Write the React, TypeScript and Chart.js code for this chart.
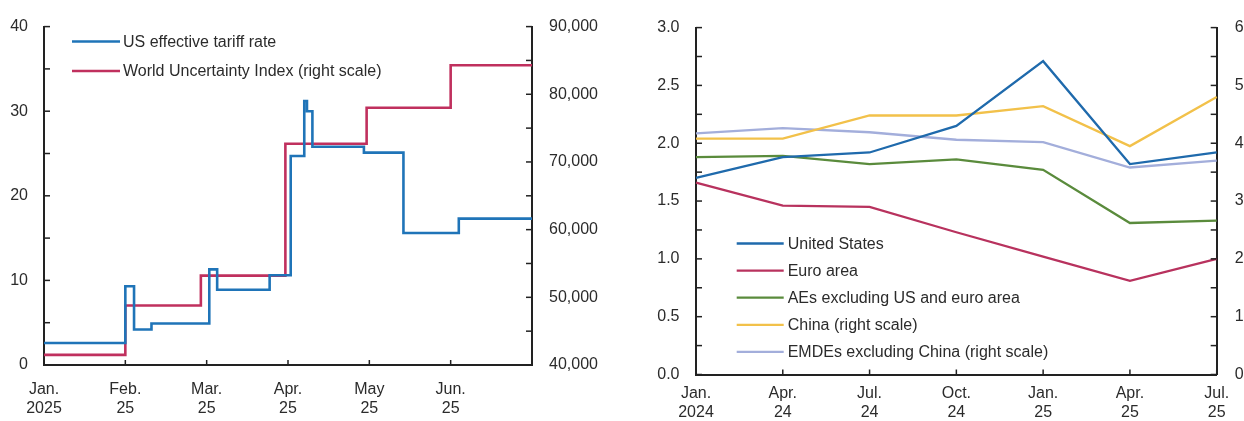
import React, { useEffect, useRef } from 'react';
import { Chart, registerables } from 'chart.js';
Chart.register(...registerables);

const FONT = '"Liberation Sans", Arial, Helvetica, sans-serif';
const TEXT = '#2b2b2b';
const AXIS = '#222';

// ---------- Left panel data ----------
const monthLabels: (string | string[])[] = [['Jan.', '2025'], ['Feb.', '25'], ['Mar.', '25'], ['Apr.', '25'], ['May', '25'], ['Jun.', '25'], ''];
const tariffDates = ['2025-01-01', '2025-02-01', '2025-02-04', '2025-02-10', '2025-03-02', '2025-03-05', '2025-03-25', '2025-04-02', '2025-04-07', '2025-04-08', '2025-04-10', '2025-04-29', '2025-05-14', '2025-06-04', '2025-07-01'];
const tariffValues = [2.6, 9.3, 4.2, 4.9, 11.3, 8.9, 10.6, 24.7, 31.2, 30.0, 25.8, 25.1, 15.6, 17.3, 17.4];
const wuiDates = ['2025-01-01', '2025-02-01', '2025-02-27', '2025-03-31', '2025-04-30', '2025-06-01', '2025-07-01'];
const wuiValues = [41500, 48800, 53200, 72700, 78000, 84300, 84300];

// ---------- Right panel data ----------
const quarterLabels: string[][] = [['Jan.', '2024'], ['Apr.', '24'], ['Jul.', '24'], ['Oct.', '24'], ['Jan.', '25'], ['Apr.', '25'], ['Jul.', '25']];
const usValues = [1.70, 1.88, 1.92, 2.15, 2.71, 1.82, 1.92];
const euroValues = [1.66, 1.46, 1.45, 1.23, 1.02, 0.81, 1.00];
const aesValues = [1.88, 1.89, 1.82, 1.86, 1.77, 1.31, 1.33];
const chinaValues = [4.08, 4.08, 4.48, 4.48, 4.64, 3.95, 4.80];
const emdeValues = [4.17, 4.26, 4.19, 4.06, 4.02, 3.58, 3.70];

function monthIndex(d: string) {
  const [y, m, day] = d.split('-').map(Number);
  const dim = new Date(y, m, 0).getDate();
  return (m - 1) + (day - 1) / dim;
}
function range(min: number, max: number, step: number) {
  const out: number[] = [];
  for (let v = min; v <= max + 1e-9; v += step) out.push(+v.toFixed(6));
  return out;
}

const innerTicksPlugin = {
  id: 'innerTicks',
  afterDraw(chart: any, _args: any, opts: any) {
    const ctx = chart.ctx;
    ctx.save();
    ctx.strokeStyle = opts.color;
    ctx.lineWidth = opts.width;
    for (const spec of opts.scales || []) {
      const scale = chart.scales[spec.id];
      if (!scale) continue;
      for (const v of spec.values) {
        const p = scale.getPixelForValue(v);
        ctx.beginPath();
        if (spec.side === 'left') { ctx.moveTo(scale.right, p); ctx.lineTo(scale.right + spec.len, p); }
        else if (spec.side === 'right') { ctx.moveTo(scale.left, p); ctx.lineTo(scale.left - spec.len, p); }
        else { ctx.moveTo(p, scale.top); ctx.lineTo(p, scale.top - spec.len); }
        ctx.stroke();
      }
    }
    ctx.restore();
  },
};

const lineLegendPlugin = {
  id: 'lineLegend',
  afterDraw(chart: any, _args: any, opts: any) {
    const ctx = chart.ctx;
    ctx.save();
    ctx.font = `16px ${FONT}`;
    ctx.textBaseline = 'middle';
    ctx.textAlign = 'left';
    chart.data.datasets.forEach((ds: any, i: number) => {
      const y = opts.y + i * opts.rowHeight;
      ctx.strokeStyle = ds.borderColor;
      ctx.lineWidth = opts.lineWidth;
      ctx.beginPath();
      ctx.moveTo(opts.x, y);
      ctx.lineTo(opts.x + opts.lineLen, y);
      ctx.stroke();
      ctx.fillStyle = TEXT;
      ctx.fillText(ds.label, opts.x + opts.lineLen + opts.gap, y + 1);
    });
    ctx.restore();
  },
};

const tickFont = { family: FONT, size: 16 };

function LeftChart() {
  const ref = useRef<HTMLCanvasElement>(null);
  useEffect(() => {
    const chart = new Chart(ref.current!, {
      type: 'line',
      data: {
        datasets: [
          {
            label: 'US effective tariff rate',
            data: tariffDates.map((d, i) => ({ x: monthIndex(d), y: tariffValues[i] })),
            borderColor: '#1f74b8',
            borderWidth: 2.6,
            stepped: 'before',
            pointRadius: 0,
            yAxisID: 'y',
          },
          {
            label: 'World Uncertainty Index (right scale)',
            data: wuiDates.map((d, i) => ({ x: monthIndex(d), y: wuiValues[i] })),
            borderColor: '#c0305e',
            borderWidth: 2.6,
            stepped: 'before',
            pointRadius: 0,
            yAxisID: 'y2',
          },
        ],
      },
      options: {
        responsive: false,
        animation: false,
        layout: { padding: { top: 19, left: 0, right: 0, bottom: 0 } },
        plugins: {
          legend: { display: false },
          tooltip: { enabled: false },
          innerTicks: {
            color: AXIS, width: 1.5,
            scales: [
              { id: 'y', side: 'left', len: 6, values: range(0, 40, 5) },
              { id: 'y2', side: 'right', len: 6, values: range(40000, 90000, 5000) },
              { id: 'x', side: 'bottom', len: 5, values: range(0, 6, 1) },
            ],
          },
          lineLegend: { x: 72, y: 41.5, rowHeight: 29.5, lineLen: 48, gap: 3, lineWidth: 2.6 },
        } as any,
        scales: {
          x: {
            type: 'linear', min: 0, max: 6,
            grid: { drawOnChartArea: false, drawTicks: false },
            border: { display: true, color: AXIS, width: 2 },
            ticks: {
              stepSize: 1, autoSkip: false, maxRotation: 0, padding: 15,
              color: TEXT, font: tickFont,
              callback: (v: any) => monthLabels[Math.round(v)] as any,
            },
            afterFit: (s: any) => { s.height = 56; },
          },
          y: {
            position: 'left', min: 0, max: 40,
            grid: { drawOnChartArea: false, drawTicks: false },
            border: { display: true, color: AXIS, width: 2 },
            ticks: { stepSize: 10, padding: 16, color: TEXT, font: tickFont },
            afterFit: (s: any) => { s.width = 44; },
          },
          y2: {
            position: 'right', min: 40000, max: 90000,
            grid: { drawOnChartArea: false, drawTicks: false },
            border: { display: true, color: AXIS, width: 2 },
            ticks: {
              stepSize: 10000, padding: 17, color: TEXT, font: tickFont,
              callback: (v: any) => Number(v).toLocaleString('en-US'),
            },
            afterFit: (s: any) => { s.width = 83; },
          },
        },
      } as any,
      plugins: [innerTicksPlugin, lineLegendPlugin],
    });
    return () => chart.destroy();
  }, []);
  return <canvas ref={ref} width={615} height={421} style={{ position: 'absolute', left: 0, top: 0, width: 615, height: 421 }} />;
}

function RightChart() {
  const ref = useRef<HTMLCanvasElement>(null);
  useEffect(() => {
    const mk = (label: string, data: number[], color: string, axis: string) => ({
      label, data, borderColor: color, borderWidth: 2.3, pointRadius: 0, tension: 0, yAxisID: axis,
    });
    const chart = new Chart(ref.current!, {
      type: 'line',
      data: {
        labels: quarterLabels,
        datasets: [
          mk('United States', usValues, '#1f6aac', 'y'),
          mk('Euro area', euroValues, '#b8325e', 'y'),
          mk('AEs excluding US and euro area', aesValues, '#5a8b3c', 'y'),
          mk('China (right scale)', chinaValues, '#f2c14a', 'y2'),
          mk('EMDEs excluding China (right scale)', emdeValues, '#a3aedb', 'y2'),
        ],
      },
      options: {
        responsive: false,
        animation: false,
        layout: { padding: { top: 24, left: 0, right: 0, bottom: 0 } },
        plugins: {
          legend: { display: false },
          tooltip: { enabled: false },
          innerTicks: {
            color: AXIS, width: 1.5,
            scales: [
              { id: 'y', side: 'left', len: 6, values: range(0, 3, 0.25) },
              { id: 'y2', side: 'right', len: 6, values: range(0, 6, 0.5) },
              { id: 'x', side: 'bottom', len: 5, values: range(0, 6, 1) },
            ],
          },
          lineLegend: { x: 121.7, y: 243.5, rowHeight: 27.1, lineLen: 47, gap: 4, lineWidth: 2.3 },
        } as any,
        scales: {
          x: {
            type: 'category', offset: false,
            grid: { drawOnChartArea: false, drawTicks: false },
            border: { display: true, color: AXIS, width: 2 },
            ticks: { autoSkip: false, maxRotation: 0, padding: 9, color: TEXT, font: tickFont },
            afterFit: (s: any) => { s.height = 46.5; },
          },
          y: {
            position: 'left', min: 0, max: 3,
            grid: { drawOnChartArea: false, drawTicks: false },
            border: { display: true, color: AXIS, width: 2 },
            ticks: { stepSize: 0.5, padding: 16.5, color: TEXT, font: tickFont, callback: (v: any) => Number(v).toFixed(1) },
            afterFit: (s: any) => { s.width = 81; },
          },
          y2: {
            position: 'right', min: 0, max: 6,
            grid: { drawOnChartArea: false, drawTicks: false },
            border: { display: true, color: AXIS, width: 2 },
            ticks: { stepSize: 1, padding: 18, color: TEXT, font: tickFont },
            afterFit: (s: any) => { s.width = 27.3; },
          },
        },
      } as any,
      plugins: [innerTicksPlugin, lineLegendPlugin],
    });
    return () => chart.destroy();
  }, []);
  return <canvas ref={ref} width={629} height={421} style={{ position: 'absolute', left: 615, top: 0, width: 629, height: 421 }} />;
}

export default function App() {
  return (
    <div style={{ position: 'absolute', left: 0, top: 0, width: 1244, height: 421, background: '#fff', overflow: 'hidden' }}>
      <LeftChart />
      <RightChart />
    </div>
  );
}
